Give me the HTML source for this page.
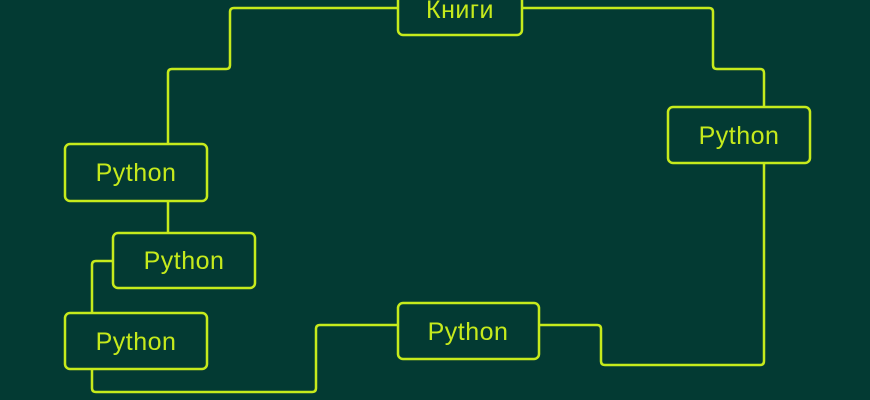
<!DOCTYPE html>
<html><head><meta charset="utf-8"><style>
html,body{margin:0;padding:0;background:#033a33;}
svg{display:block}
text{font-family:"Liberation Sans","DejaVu Sans",sans-serif;font-size:25px;fill:#c6ea1c;text-anchor:middle;dominant-baseline:central;letter-spacing:0.5px}
</style></head><body>
<svg width="870" height="400" viewBox="0 0 870 400">
<rect width="870" height="400" fill="#033a33"/>
<g fill="none" stroke="#c6ea1c" stroke-width="2.5" stroke-linejoin="round">
<path d="M168 144 V73 Q168 69 172 69 H226 Q230 69 230 65 V12 Q230 8 234 8 H398"/>
<path d="M522 8 H709 Q713 8 713 12 V65 Q713 69 717 69 H760 Q764 69 764 73 V107"/>
<path d="M764 163 V361 Q764 365 760 365 H605 Q601 365 601 361 V329 Q601 325 597 325 H539"/>
<path d="M398 325 H320 Q316 325 316 329 V388 Q316 392 312 392 H96 Q92 392 92 388 V369"/>
<path d="M92 313 V265 Q92 261 96 261 H113"/>
<path d="M168 201 V233"/>
<rect x="65" y="144" width="142" height="57" rx="5"/>
<rect x="113" y="233" width="142" height="55" rx="5"/>
<rect x="65" y="313" width="142" height="56" rx="5"/>
<rect x="398" y="303" width="141" height="56" rx="5"/>
<rect x="668" y="107" width="142" height="56" rx="5"/>
<rect x="398" y="-20" width="124" height="55" rx="5"/>
</g>
<text x="136" y="173">Python</text>
<text x="184" y="261">Python</text>
<text x="136" y="342">Python</text>
<text x="468" y="332">Python</text>
<text x="739" y="136">Python</text>
<text x="460" y="10">Книги</text>
</svg>
</body></html>
